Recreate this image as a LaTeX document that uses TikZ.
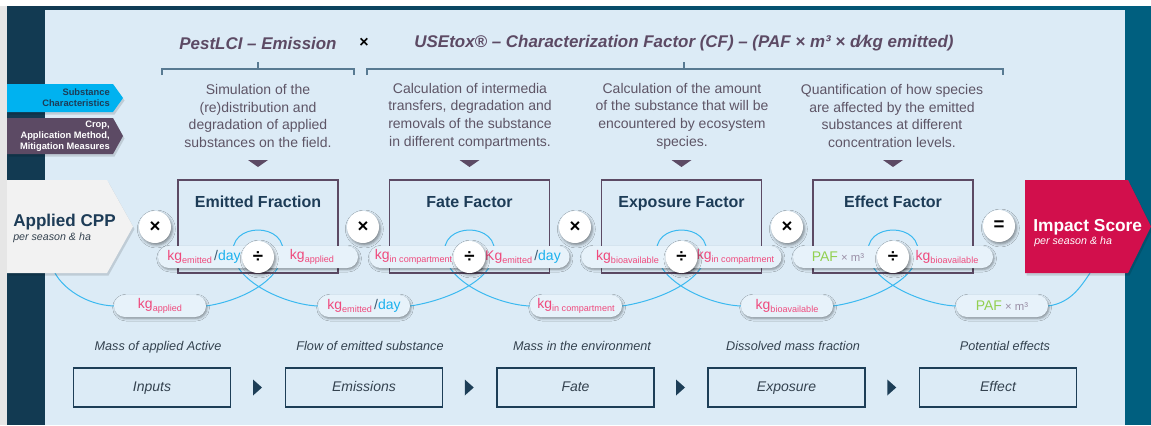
\documentclass[tikz,border=0pt]{standalone}
\usepackage{fontspec}
\setmainfont{Liberation Sans}
\usetikzlibrary{calc,shadows.blur}
\definecolor{cBg}{HTML}{DCEBF6}
\definecolor{cPill}{HTML}{E7F2FA}
\definecolor{cNavy}{HTML}{123A52}
\definecolor{cTeal}{HTML}{005F7F}
\definecolor{cPurp}{HTML}{5C4A64}
\definecolor{cDesc}{HTML}{5E5566}
\definecolor{cTitle}{HTML}{1D3C57}
\definecolor{cCyan}{HTML}{00B2F0}
\definecolor{cCrim}{HTML}{D20F4C}
\definecolor{cKg}{HTML}{EF4A7D}
\definecolor{cDay}{HTML}{1AB1EE}
\definecolor{cSlash}{HTML}{3D5A70}
\definecolor{cPaf}{HTML}{92D050}
\definecolor{cM}{HTML}{9A8FA6}
\definecolor{cCurve}{HTML}{3BB9F0}
\definecolor{cBrk}{HTML}{587A92}
\definecolor{cBot}{HTML}{1D3E57}
\definecolor{cBotTxt}{HTML}{34424F}
\definecolor{cCpp}{HTML}{F2F2F2}
\definecolor{cEdge}{HTML}{E6E6E6}
\definecolor{cTagTxt}{HTML}{1D3C57}

\newcommand{\kgs}[2][kg]{\textcolor{cKg}{\fontsize{10.5}{12}\selectfont #1\raisebox{-0.35ex}{\fontsize{6.8}{8}\selectfont #2}}}
\newcommand{\dayu}{\,\textcolor{cSlash}{\fontsize{10.5}{12}\selectfont /}\textcolor{cDay}{\fontsize{10.5}{12}\selectfont day}}
\newcommand{\pafu}{\textcolor{cPaf}{\fontsize{10.5}{12}\selectfont PAF}\textcolor{cM}{\fontsize{8.5}{10}\selectfont\ × m³}}

\tikzset{
 softshadow/.style={blur shadow={shadow xshift=0.8pt, shadow yshift=-1.2pt, shadow blur radius=1.8pt, shadow opacity=40}},
 manshadow/.style={fill=black, opacity=0.13, shift={(1.5,2.5)}},
 pill/.style={fill=cPill, rounded corners=8.25pt, minimum height=16.5pt, inner sep=0pt, softshadow},
 opc/.style={circle, fill=white, minimum size=24pt, inner sep=0pt, font=\fontsize{14}{14}\selectfont\bfseries, blur shadow={shadow xshift=1pt, shadow yshift=-1.5pt, shadow blur radius=2.2pt, shadow opacity=45}},
 factorbox/.style={draw=cPurp, line width=1.1pt, minimum width=120pt, minimum height=69.75pt, inner sep=0pt},
 ftitle/.style={anchor=base, text=cTitle, font=\fontsize{12}{14}\selectfont\bfseries},
 hdr/.style={text=cPurp, font=\fontsize{12.7}{15}\selectfont\bfseries\itshape},
 desc/.style={text=cDesc, align=center, font=\fontsize{10.5}{13.2}\selectfont},
 tagtxt/.style={align=right, font=\fontsize{7}{8.3}\selectfont\bfseries, inner sep=0pt},
 brk/.style={draw=cBrk, line width=0.8pt},
 loopline/.style={draw=cCurve, line width=0.75pt},
 botbox/.style={draw=cBot, line width=1.1pt, minimum width=117.75pt, minimum height=29.25pt, inner sep=0pt, text height=7.5pt, text depth=2pt, text=cBotTxt, font=\fontsize{10.5}{12}\selectfont\itshape},
 botlabel/.style={text=cBotTxt, text height=7pt, text depth=2pt, font=\fontsize{9.5}{11}\selectfont\itshape},
}

\begin{document}
\begin{tikzpicture}[x=0.75pt,y=-0.75pt]
\useasboundingbox (0,0) rectangle (1151,425);
% background
\fill[white] (0,0) rectangle (1151,425);
\fill[cEdge] (0,6) rectangle (7,425);
\fill[cNavy] (7,6) rectangle (45,425);
\fill[cTeal] (1125,6) rectangle (1151,425);
\shade[left color=cNavy, right color=cTeal] (45,6) rectangle (1125,10);
\fill[cBg] (45,10) rectangle (1125,425);

% anchor coordinates for the loops
\coordinate (cppb) at (55,273);
\coordinate (impb) at (1090,273);
\coordinate (LP1) at (160,306);
\coordinate (LP2) at (364,306);
\coordinate (LP3) at (576,306);
\coordinate (LP4) at (787,306);
\coordinate (LP5) at (1002,306);
\coordinate (DV1) at (258,257);
\coordinate (DV2) at (469.5,257);
\coordinate (DV3) at (681.5,257);
\coordinate (DV4) at (893,257);

% loops (behind everything else)
\draw[loopline] (cppb) .. controls +(8,15) and +(-28,-1) .. ($(LP1)+(-46,0)$);
\foreach \i/\k in {1/2,2/3,3/4,4/5}
  \draw[loopline] ($(LP\i)+(46,0)$) .. controls +(29,-4) and +(-7,27) .. ($(DV\i)+(24,1)$)
    .. controls +(5,-20) and +(13,0) .. ($(DV\i)+(0,-27)$)
    .. controls +(-13,0) and +(-5,-20) .. ($(DV\i)+(-24,1)$)
    .. controls +(7,27) and +(-29,-1) .. ($(LP\k)+(-46,0)$);
\draw[loopline] ($(LP5)+(46,0)$) .. controls +(22,-3) and +(-10,15) .. (impb);

% header
\node[hdr] (h1) at (258,43) {PestLCI – Emission};
\node[font=\fontsize{12}{12}\selectfont\bfseries, text=black] (hx) at (364,43) {×};
\node[hdr] (h2) at (684,43) {USEtox® – Characterization Factor (CF) – (PAF × m³ × d⁄kg emitted)};
\draw[brk] (162,75) -- (162,69) -- (354,69) -- (354,75);
\draw[brk] (258,69) -- (258,62);
\draw[brk] (367,75) -- (367,69) -- (1003,69) -- (1003,75);
\draw[brk] (684,69) -- (684,62);

% left tags
\fill[manshadow] (7,84) -- (113,84) -- (123,98) -- (113,112) -- (7,112) -- cycle;
\fill[cCyan] (7,84) -- (113,84) -- (123,98) -- (113,112) -- (7,112) -- cycle;
\node[tagtxt, text=cTagTxt, anchor=east] (tg1) at (110,98) {Substance\\Characteristics};
\fill[manshadow] (7,118) -- (113,118) -- (123,136) -- (113,154) -- (7,154) -- cycle;
\fill[cPurp] (7,118) -- (113,118) -- (123,136) -- (113,154) -- (7,154) -- cycle;
\node[tagtxt, text=white, anchor=east] (tg2) at (110,136) {Crop,\\Application Method,\\Mitigation Measures};

% descriptions
\node[desc] (d1) at (258,116) {Simulation of the\\(re)distribution and\\degradation of applied\\substances on the field.};
\node[desc] (d2) at (470,116) {Calculation of intermedia\\transfers, degradation and\\removals of the substance\\in different compartments.};
\node[desc] (d3) at (682,116) {Calculation of the amount\\of the substance that will be\\encountered by ecosystem\\species.};
\node[desc] (d4) at (892,116) {Quantification of how species\\are affected by the emitted\\substances at different\\concentration levels.};
\foreach \c in {258,469.5,681.5,893}
  \fill[cPurp] (\c-10,160) -- (\c+10,160) -- (\c,167) -- cycle;

% factor boxes
\node[factorbox] (fb1) at (258,226.5) {};
\node[factorbox] (fb2) at (469.5,226.5) {};
\node[factorbox] (fb3) at (681.5,226.5) {};
\node[factorbox] (fb4) at (893,226.5) {};
\node[ftitle] (ft1) at (258,207) {Emitted Fraction};
\node[ftitle] (ft2) at (469.5,207) {Fate Factor};
\node[ftitle] (ft3) at (681.5,207) {Exposure Factor};
\node[ftitle] (ft4) at (893,207) {Effect Factor};

% Applied CPP and Impact Score
\fill[manshadow] (7,180) -- (107,180) -- (133,226.5) -- (107,273) -- (7,273) -- cycle;
\fill[cCpp] (7,180) -- (107,180) -- (133,226.5) -- (107,273) -- (7,273) -- cycle;
\node[anchor=base west, inner sep=0pt, text=cTitle, font=\fontsize{12.8}{14}\selectfont\bfseries] (cppt) at (13,226.5) {Applied CPP};
\node[anchor=base west, inner sep=0pt, text=cBotTxt, font=\fontsize{8}{9}\selectfont\itshape] (cpps) at (13,240) {per season \& ha};
\fill[manshadow] (1025,180) -- (1128,180) -- (1151,226.5) -- (1128,273) -- (1025,273) -- cycle;
\fill[cCrim] (1025,180) -- (1128,180) -- (1151,226.5) -- (1128,273) -- (1025,273) -- cycle;
\node[anchor=base west, inner sep=0pt, text=white, font=\fontsize{13}{14}\selectfont\bfseries] (impt) at (1033,231.5) {Impact Score};
\node[anchor=base west, inner sep=0pt, text=white, font=\fontsize{8}{9}\selectfont\itshape] (imps) at (1034,244.5) {per season \& ha};

% upper pills
\node[pill, minimum width=85.5pt] (pl1) at (215,257) {};
\node[pill, minimum width=85.5pt] (pr1) at (301,257) {};
\node (tl1) at (204,257) {\kgs{emitted}\dayu};
\node (tr1) at (312,257) {\kgs{applied}};
\node[opc] (dv1) at (DV1) {÷};

\node[pill, minimum width=85.5pt] (pl2) at (426.5,257) {};
\node[pill, minimum width=85.5pt] (pr2) at (512.5,257) {};
\node (tl2) at (413.5,257) {\kgs{in compartment}};
\node (tr2) at (523,257) {\kgs[Kg]{emitted}\dayu};
\node[opc] (dv2) at (DV2) {÷};

\node[pill, minimum width=85.5pt] (pl3) at (638.5,257) {};
\node[pill, minimum width=85.5pt] (pr3) at (724.5,257) {};
\node (tl3) at (627.5,257) {\kgs{bioavailable}};
\node (tr3) at (735.5,257) {\kgs{in compartment}};
\node[opc] (dv3) at (DV3) {÷};

\node[pill, minimum width=85.5pt] (pl4) at (850,257) {};
\node[pill, minimum width=85.5pt] (pr4) at (936,257) {};
\node (tl4) at (838,257) {\pafu};
\node (tr4) at (947,257) {\kgs{bioavailable}};
\node[opc] (dv4) at (DV4) {÷};

% operator circles
\node[opc] (m1) at (155,227) {×};
\node[opc] (m2) at (363,227) {×};
\node[opc] (m3) at (575,227) {×};
\node[opc] (m4) at (787,227) {×};
\node[opc] (eq) at (999,226) {=};

% lower pills
\node[pill, minimum width=69pt] (lp1) at (LP1) {\kgs{applied}};
\node[pill, minimum width=69pt] (lp2) at (LP2) {\kgs{emitted}\dayu};
\node[pill, minimum width=69pt] (lp3) at (LP3) {\kgs{in compartment}};
\node[pill, minimum width=69pt] (lp4) at (LP4) {\kgs{bioavailable}};
\node[pill, minimum width=69pt] (lp5) at (LP5) {\pafu};

% bottom row
\node[botlabel] (bl1) at (158,347) {Mass of applied Active};
\node[botlabel] (bl2) at (370,347) {Flow of emitted substance};
\node[botlabel] (bl3) at (582,347) {Mass in the environment};
\node[botlabel] (bl4) at (793,347) {Dissolved mass fraction};
\node[botlabel] (bl5) at (1005,347) {Potential effects};
\node[botbox] (bb1) at (152,387.5) {Inputs};
\node[botbox] (bb2) at (364,387.5) {Emissions};
\node[botbox] (bb3) at (575.5,387.5) {Fate};
\node[botbox] (bb4) at (786.5,387.5) {Exposure};
\node[botbox] (bb5) at (998,387.5) {Effect};
\foreach \a/\b in {1/2,2/3,3/4,4/5}
  \fill[cBot] ($(bb\a.east)!0.5!(bb\b.west)+(-5,-8)$) -- ++(9,8) -- ++(-9,8) -- cycle;
\end{tikzpicture}
\end{document}
